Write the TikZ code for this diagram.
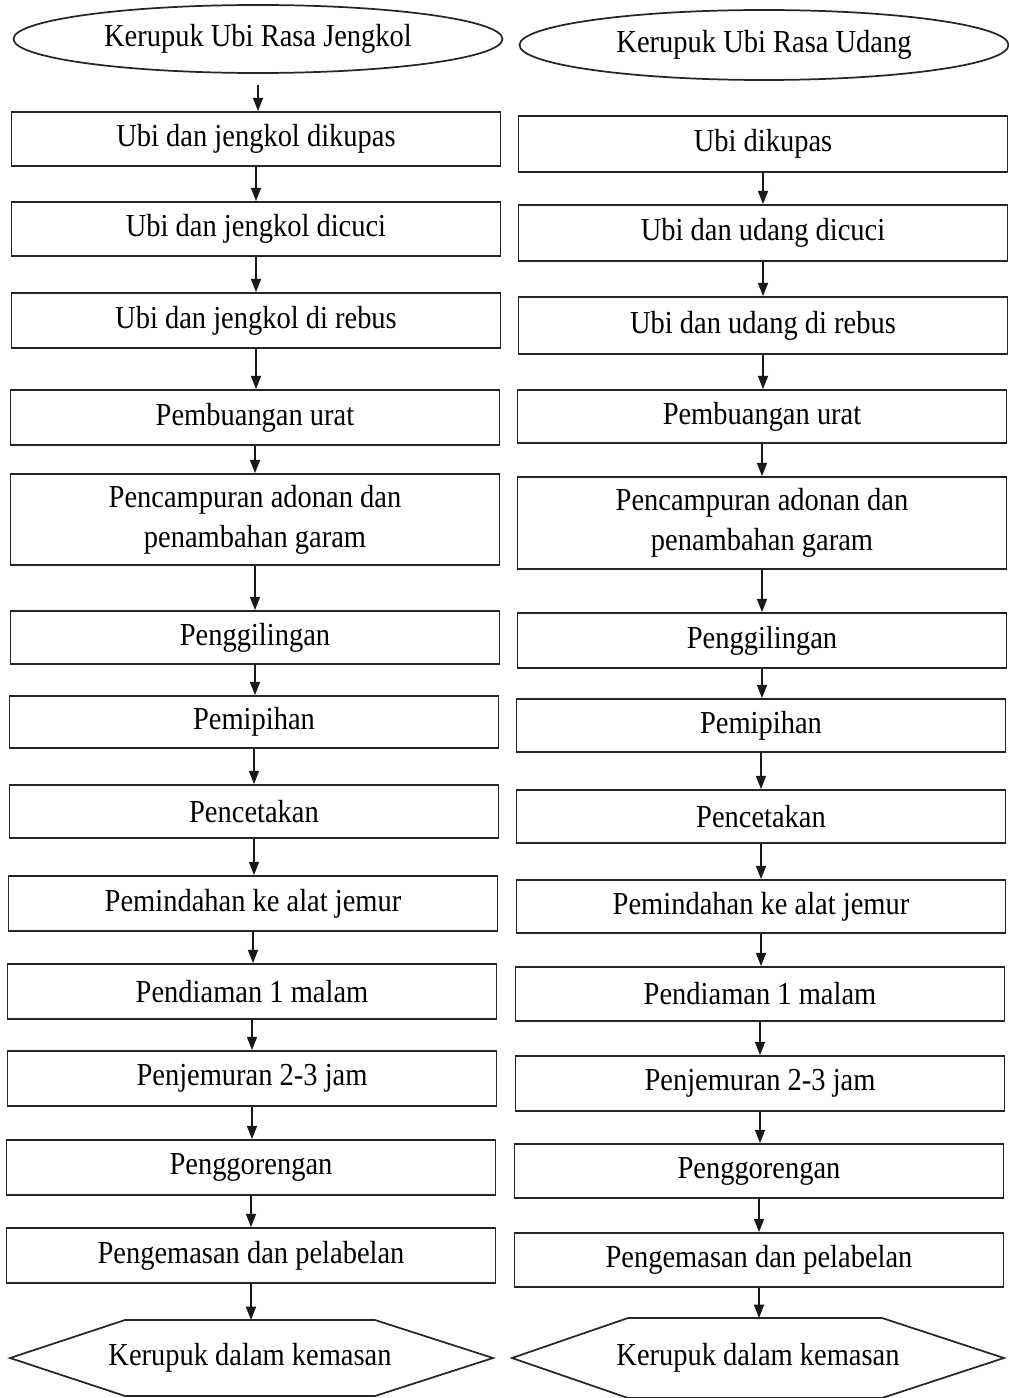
\documentclass[tikz,border=0pt]{standalone}
\usepackage{fontspec}
\setmainfont{Liberation Serif}
\usetikzlibrary{arrows.meta,shapes.geometric}
\newcommand{\flowfont}{\fontsize{24}{30}\selectfont\addfontfeature{FakeStretch=0.89}}
\tikzset{
  box/.style={draw=black!85, line width=1.3pt, minimum width=489*0.75pt, inner sep=0pt, align=center, font=\flowfont},
  oval/.style={ellipse, draw=black!85, line width=1.3pt, minimum width=489*0.75pt, inner sep=0pt, font=\flowfont},
  hexa/.style={draw=black!85, line width=1.3pt},
  flow/.style={draw=black!90, line width=1.3pt, -{Triangle[length=10pt,width=7.5pt]}},
  lbl/.style={font=\flowfont, inner sep=0pt}
}
\begin{document}
\begin{tikzpicture}[x=0.75pt,y=-0.75pt]
\useasboundingbox (0,0) rectangle (1008,1398);
% left column
\node[oval, minimum height=68*0.75pt] (L0) at (258,39) {Kerupuk Ubi Rasa Jengkol};
\node[box, minimum height=54*0.75pt] (L1) at (256,139) {Ubi dan jengkol dikupas};
\node[box, minimum height=54*0.75pt] (L2) at (256,229) {Ubi dan jengkol dicuci};
\node[box, minimum height=55*0.75pt] (L3) at (256,320.5) {Ubi dan jengkol di rebus};
\node[box, minimum height=55*0.75pt] (L4) at (255,417.5) {Pembuangan urat};
\node[box, minimum height=91*0.75pt] (L5) at (255,519.5) {Pencampuran adonan dan\\penambahan garam};
\node[box, minimum height=53*0.75pt] (L6) at (255,637.5) {Penggilingan};
\node[box, minimum height=52*0.75pt] (L7) at (254,722) {Pemipihan};
\node[box, minimum height=53*0.75pt] (L8) at (254,811.5) {Pencetakan};
\node[box, minimum height=55*0.75pt] (L9) at (253,903.5) {Pemindahan ke alat jemur};
\node[box, minimum height=55*0.75pt] (L10) at (252,991.5) {Pendiaman 1 malam};
\node[box, minimum height=55*0.75pt] (L11) at (252,1078.5) {Penjemuran 2-3 jam};
\node[box, minimum height=55*0.75pt] (L12) at (251,1167.5) {Penggorengan};
\node[box, minimum height=55*0.75pt] (L13) at (251,1255.5) {Pengemasan dan pelabelan};
\draw[hexa] (10,1358) -- (125,1320) -- (375,1320) -- (493,1358) -- (375,1396) -- (125,1396) -- cycle;
\node[lbl] (L14) at (250,1358) {Kerupuk dalam kemasan};
\coordinate (L14t) at (250,1320);
% right column
\node[oval, minimum height=70*0.75pt] (R0) at (764,45) {Kerupuk Ubi Rasa Udang};
\node[box, minimum height=56*0.75pt] (R1) at (763,144) {Ubi dikupas};
\node[box, minimum height=56*0.75pt] (R2) at (763,233) {Ubi dan udang dicuci};
\node[box, minimum height=57*0.75pt] (R3) at (763,325.5) {Ubi dan udang di rebus};
\node[box, minimum height=53*0.75pt] (R4) at (762,416.5) {Pembuangan urat};
\node[box, minimum height=92*0.75pt] (R5) at (762,523) {Pencampuran adonan dan\\penambahan garam};
\node[box, minimum height=55*0.75pt] (R6) at (762,640.5) {Penggilingan};
\node[box, minimum height=53*0.75pt] (R7) at (761,725.5) {Pemipihan};
\node[box, minimum height=53*0.75pt] (R8) at (761,816.5) {Pencetakan};
\node[box, minimum height=53*0.75pt] (R9) at (761,906.5) {Pemindahan ke alat jemur};
\node[box, minimum height=54*0.75pt] (R10) at (760,994) {Pendiaman 1 malam};
\node[box, minimum height=55*0.75pt] (R11) at (760,1083.5) {Penjemuran 2-3 jam};
\node[box, minimum height=54*0.75pt] (R12) at (759,1171) {Penggorengan};
\node[box, minimum height=54*0.75pt] (R13) at (759,1260) {Pengemasan dan pelabelan};
\draw[hexa] (512,1358) -- (628,1318) -- (882,1318) -- (1004,1358) -- (882,1398) -- (628,1398) -- cycle;
\node[lbl] (R14) at (758,1358) {Kerupuk dalam kemasan};
\coordinate (R14t) at (759,1318);
% connectors
\draw[flow] ([yshift=-8pt]L0.south) -- (L0.south |- L1.north);
\foreach \a/\b in {1/2,2/3,3/4,4/5,5/6,6/7,7/8,8/9,9/10,10/11,11/12,12/13}{
  \draw[flow] (L\a.south) -- (L\a.south |- L\b.north);
  \draw[flow] (R\a.south) -- (R\a.south |- R\b.north);
}
\draw[flow] (L13.south) -- (L13.south |- L14t);
\draw[flow] (R13.south) -- (R13.south |- R14t);
\end{tikzpicture}
\end{document}
